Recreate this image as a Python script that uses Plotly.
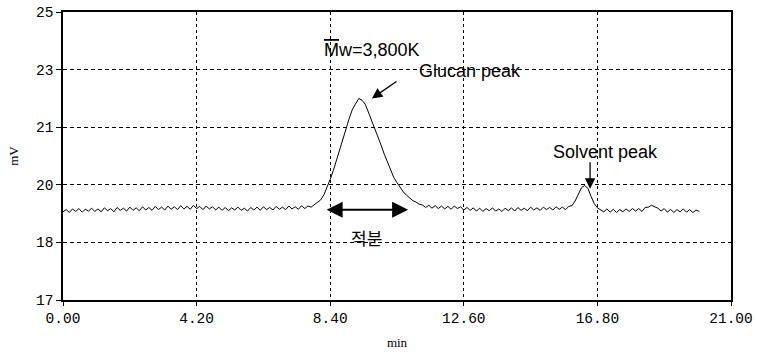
import plotly.graph_objects as go

# ---- data ----
time_min = [round(i * 0.1, 1) for i in range(201)]
signal_mv = [
    19.45, 19.51, 19.43, 19.53, 19.46, 19.54, 19.44, 19.52, 19.47, 19.55,
    19.46, 19.53, 19.45, 19.56, 19.48, 19.54, 19.45, 19.57, 19.49, 19.55,
    19.47, 19.58, 19.49, 19.56, 19.48, 19.59, 19.50, 19.57, 19.49, 19.60,
    19.51, 19.58, 19.50, 19.61, 19.52, 19.59, 19.51, 19.62, 19.53, 19.60,
    19.52, 19.63, 19.54, 19.60, 19.51, 19.61, 19.53, 19.59, 19.50, 19.58,
    19.49, 19.57, 19.48, 19.56, 19.50, 19.58, 19.49, 19.55, 19.47, 19.57,
    19.50, 19.58, 19.49, 19.59, 19.51, 19.57, 19.50, 19.60, 19.52, 19.58,
    19.51, 19.61, 19.53, 19.59, 19.52, 19.62, 19.54, 19.61, 19.58, 19.64,
    19.70, 19.78, 19.92, 20.12, 20.35, 20.60, 20.90, 21.20, 21.50, 21.78,
    22.05, 22.30, 22.47, 22.60, 22.55, 22.44, 22.22, 22.00, 21.78, 21.55,
    21.30, 21.05, 20.82, 20.60, 20.40, 20.26, 20.12, 20.00, 19.91, 19.83,
    19.76, 19.72, 19.66, 19.64, 19.57, 19.63, 19.55, 19.62, 19.54, 19.61,
    19.53, 19.60, 19.52, 19.61, 19.54, 19.59, 19.50, 19.57, 19.49, 19.56,
    19.47, 19.55, 19.46, 19.54, 19.48, 19.56, 19.47, 19.53, 19.46, 19.55,
    19.48, 19.56, 19.47, 19.57, 19.49, 19.55, 19.48, 19.58, 19.50, 19.56,
    19.49, 19.58, 19.51, 19.57, 19.50, 19.59, 19.52, 19.58, 19.51, 19.60,
    19.62, 19.75, 19.95, 20.12, 20.18, 20.10, 19.88, 19.68, 19.56, 19.50,
    19.45, 19.53, 19.44, 19.52, 19.43, 19.51, 19.45, 19.53, 19.46, 19.54,
    19.47, 19.54, 19.46, 19.57, 19.58, 19.63, 19.60, 19.55, 19.47, 19.54,
    19.44, 19.52, 19.43, 19.51, 19.45, 19.53, 19.44, 19.51, 19.43, 19.50,
    19.46,
]

x_tick_vals = [0.0, 4.2, 8.4, 12.6, 16.8, 21.0]
x_tick_text = ["0.00", "4.20", "8.40", "12.60", "16.80", "21.00"]
y_tick_vals = [17.0, 18.6, 20.2, 21.8, 23.4, 25.0]
y_tick_text = ["17", "18", "20", "21", "23", "25"]

fig = go.Figure()
fig.add_trace(go.Scatter(x=time_min, y=signal_mv, mode="lines",
                         line=dict(color="black", width=1), hoverinfo="skip"))

tick_font = dict(family="Liberation Mono", size=14.5, color="black")
ann_font = dict(family="Liberation Sans", size=18, color="black")

fig.update_xaxes(range=[0, 21], tickvals=x_tick_vals, ticktext=x_tick_text,
                 showgrid=True, gridcolor="black", gridwidth=1, griddash="3px,3px",
                 showline=True, linecolor="black", linewidth=1.5, mirror=True,
                 ticks="outside", ticklen=4, tickcolor="black", tickfont=tick_font,
                 zeroline=False, automargin=False, ticklabeloverflow="allow",
                 title=dict(text="min", font=dict(family="Liberation Serif", size=13, color="black"),
                            standoff=12))
fig.update_yaxes(range=[17, 25], tickvals=y_tick_vals, ticktext=y_tick_text,
                 showgrid=True, gridcolor="black", gridwidth=1, griddash="4px,3px",
                 showline=True, linecolor="black", linewidth=1.5, mirror=True,
                 ticks="outside", ticklen=5, tickcolor="black", tickfont=tick_font,
                 zeroline=False, automargin=False, ticklabeloverflow="allow",
                 title=dict(text="mV", font=dict(family="Liberation Serif", size=13, color="black"),
                            standoff=14))

annotations = [
    dict(x=9.71, y=23.94, text='<span style="text-decoration:overline">M</span>w=3,800K',
         showarrow=False, font=ann_font, xref="x", yref="y"),
    dict(x=12.79, y=23.36, text="Glucan peak", showarrow=False, font=ann_font,
         xref="x", yref="y"),
    dict(x=9.71, y=22.60, ax=10.53, ay=23.10, axref="x", ayref="y", text="",
         showarrow=True, arrowhead=2, arrowsize=1.6, arrowwidth=1.3, arrowcolor="black",
         xref="x", yref="y", standoff=0),
    dict(x=17.04, y=21.10, text="Solvent peak", showarrow=False, font=ann_font,
         xref="x", yref="y"),
    dict(x=16.57, y=20.09, ax=16.57, ay=20.87, axref="x", ayref="y", text="",
         showarrow=True, arrowhead=2, arrowsize=1.6, arrowwidth=1.3, arrowcolor="black",
         xref="x", yref="y", standoff=0),
    dict(x=9.53, y=18.73, text="적분", showarrow=False,
         font=dict(family="Noto Sans CJK KR", size=17, color="black"), xref="x", yref="y"),
    dict(x=10.85, y=19.51, ax=8.24, ay=19.51, axref="x", ayref="y", text="",
         showarrow=True, arrowhead=2, startarrowhead=2, arrowside="end+start",
         arrowsize=1.6, startarrowsize=1.6, arrowwidth=2, arrowcolor="black",
         xref="x", yref="y", standoff=0, startstandoff=0),
]

fig.update_layout(width=757, height=357, margin=dict(l=63, r=26, t=12, b=57),
                  paper_bgcolor="white", plot_bgcolor="white", showlegend=False,
                  annotations=annotations)

# remove the default page margin so the figure sits at the window's top-left corner
fig.write_html("out.html", config={"displayModeBar": False},
               post_script="document.body.style.margin='0px';")
